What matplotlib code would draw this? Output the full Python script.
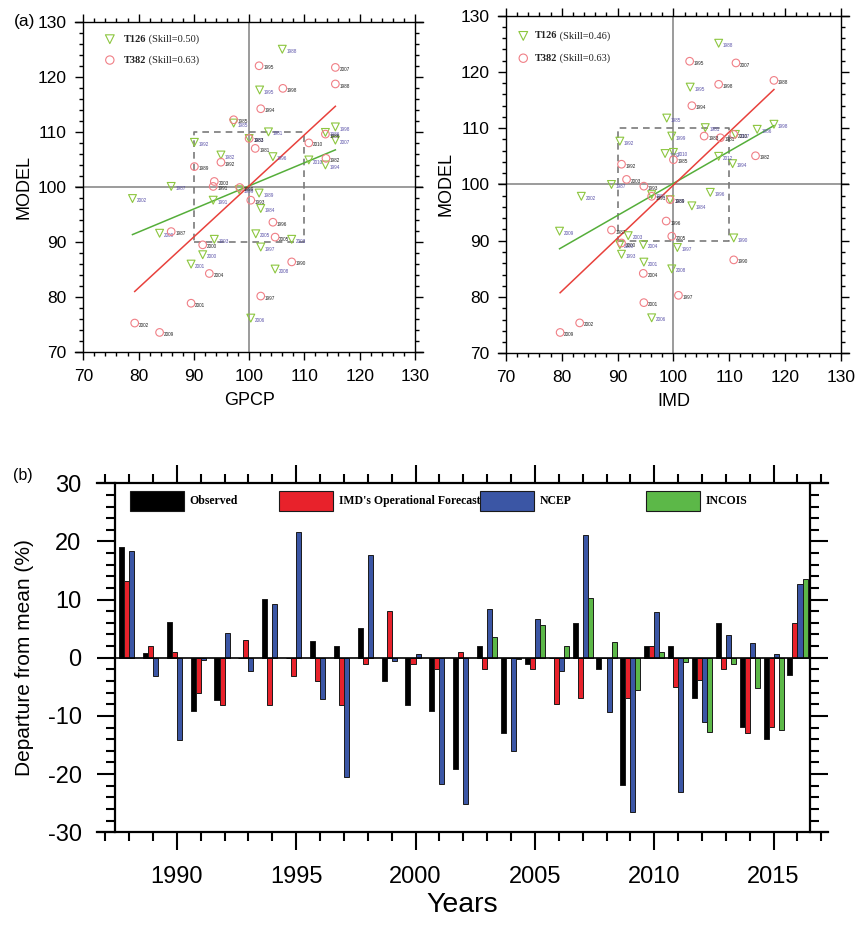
import matplotlib.pyplot as plt
from matplotlib.patches import Rectangle
from matplotlib.ticker import MultipleLocator
import numpy as np

plt.rcParams['font.family'] = ['Liberation Sans', 'DejaVu Sans']
plt.rcParams['axes.unicode_minus'] = False

# ---------------- (a) scatter data, MODEL vs GPCP ----------------
gpcp_t126_x = [106.0, 101.9, 97.2, 103.5, 100.0, 115.6, 113.8, 115.6, 90.1, 94.9,
               104.3, 110.8, 113.8, 85.9, 78.9, 93.5, 98.2, 101.8, 102.1, 83.8,
               93.7, 101.2, 107.7, 102.1, 91.6, 89.5, 104.7, 100.3]
gpcp_t126_y = [125.0, 117.6, 111.6, 110.0, 108.8, 110.9, 109.9, 108.5, 108.1, 105.8,
               105.5, 104.9, 104.0, 100.1, 97.9, 97.6, 99.5, 98.9, 96.1, 91.6,
               90.5, 91.5, 90.5, 89.1, 87.7, 86.0, 85.1, 76.2]
gpcp_t126_yr = ['1988', '1995', '1985', '1981', '1983', '1998', '1986', '2007', '1992', '1982',
                '1996', '2010', '1994', '1987', '2002', '1991', '1999', '1989', '1984', '2009',
                '1993', '2005', '2003', '1997', '2000', '2001', '2008', '2006']

gpcp_t382_x = [101.8, 115.6, 115.6, 106.1, 102.1, 97.2, 100.0, 101.1, 110.8, 113.8,
               113.9, 94.9, 90.1, 93.7, 93.5, 98.3, 100.3, 104.3, 85.9, 104.7,
               91.6, 107.7, 92.8, 102.1, 89.5, 79.3, 83.8]
gpcp_t382_y = [122.0, 121.7, 118.7, 117.9, 114.2, 112.2, 108.8, 107.0, 108.0, 109.6,
               105.2, 104.5, 103.7, 101.0, 100.1, 99.9, 97.6, 93.6, 91.9, 90.9,
               89.5, 86.4, 84.3, 80.2, 78.9, 75.3, 73.6]
gpcp_t382_yr = ['1995', '2007', '1988', '1998', '1994', '1985', '1983', '1981', '2010', '1986',
                '1982', '1992', '1989', '2003', '1991', '1999', '1993', '1996', '1987', '2005',
                '2000', '1990', '2004', '1997', '2001', '2002', '2009']

# ---------------- (a) scatter data, MODEL vs IMD ----------------
imd_t126_x = [108.1, 103.0, 98.8, 118.0, 115.0, 105.7, 111.1, 90.4, 99.7, 98.5,
              100.0, 108.1, 110.6, 88.9, 83.5, 96.1, 106.6, 103.3, 99.4, 79.6,
              91.9, 94.6, 90.4, 100.7, 110.8, 90.7, 94.7, 99.7, 96.1]
imd_t126_y = [125.1, 117.3, 111.8, 110.7, 109.8, 110.1, 108.9, 107.7, 108.6, 105.5,
              105.7, 105.0, 103.7, 100.0, 97.9, 98.2, 98.6, 96.2, 97.3, 91.7,
              90.9, 89.3, 89.3, 88.8, 90.5, 87.6, 86.2, 85.0, 76.3]
imd_t126_yr = ['1988', '1995', '1985', '1998', '1986', '1981', '2007', '1992', '1999', '1982',
               '2010', '2012', '1994', '1987', '2002', '1991', '1996', '1984', '1989', '2009',
               '2003', '2004', '2000', '1997', '1990', '1993', '2001', '2008', '2006']

imd_t382_x = [102.9, 111.2, 118.0, 108.1, 103.3, 105.5, 108.4, 110.8, 114.7, 90.7,
              91.6, 94.7, 98.7, 99.7, 88.9, 110.8, 94.6, 100.9, 94.7, 83.2,
              79.7, 96.1, 100.0, 99.4, 90.7]
imd_t382_y = [121.9, 121.6, 118.5, 117.8, 114.0, 108.6, 108.3, 108.9, 105.1, 103.6,
              100.9, 99.7, 93.5, 90.8, 91.9, 86.6, 84.2, 80.3, 79.0, 75.4,
              73.7, 97.9, 104.4, 97.3, 89.6]
imd_t382_yr = ['1995', '2007', '1988', '1998', '1994', '1983', '1981', '2010', '1982', '1992',
               '2003', '1993', '1996', '2005', '1987', '1990', '2004', '1997', '2001', '2002',
               '2009', '1991', '1985', '1989', '2000']

# regression lines: (slope, model value at 100)
gpcp_t126_fit = (0.419, 100.2)
gpcp_t382_fit = (0.926, 100.2)
imd_t126_fit = (0.570, 100.2)
imd_t382_fit = (0.943, 99.9)

gpcp_skill = ('0.50', '0.63')
imd_skill = ('0.46', '0.63')

# ---------------- (b) departure from mean (%) ----------------
years = np.arange(1988, 2017)
observed = [19.1, 0.9, 6.1, -9.2, -7.2, 0.0, 10.1, 0.0, 2.9, 2.0,
            5.1, -4.0, -8.1, -9.1, -19.2, 2.1, -12.9, -1.0, 0.0, 6.0,
            -2.0, -21.9, 2.1, 2.1, -7.0, 6.0, -11.9, -13.9, -3.0]
imd_forecast = [13.2, 2.0, 1.0, -6.0, -8.1, 3.1, -8.1, -3.1, -4.0, -8.1,
                -1.1, 8.1, -1.1, -2.0, 1.0, -2.0, 0.0, -2.0, -7.9, -7.0,
                0.0, -7.0, 2.1, -5.0, -3.9, -2.0, -13.0, -11.9, 6.0]
ncep = [18.4, -3.1, -14.1, -0.4, 4.2, -2.3, 9.3, 21.7, -7.1, -20.5,
        17.6, -0.5, 0.6, -21.7, -25.1, 8.4, -16.0, 6.7, -2.3, 21.1,
        -9.4, -26.6, 7.8, -23.0, -11.0, 3.9, 2.5, 0.7, 12.6]
incois = [np.nan] * 15 + [3.5, -0.3, 5.6, 2.1, 10.2,
                          2.7, -5.5, 1.0, -0.7, -12.7, -1.1, -5.2, -12.5, 13.6]

series_names = ['Observed', "IMD's Operational Forecast", 'NCEP', 'INCOIS']
series_colors = ['#000000', '#E8222B', '#3B56A5', '#5CB848']

fig = plt.figure(figsize=(8.64, 9.27), dpi=100)

tri_col = '#8CC63F'
circ_col = '#F07F86'


def scatter_panel(rect, pos_leg, xlabel, t126, t382, fits, skill):
    ax = fig.add_axes(rect)
    ax.set_xlim(68.5, 131.5)
    ax.set_ylim(70, 130)
    ax.spines['left'].set_position(('data', 70))
    ax.spines['right'].set_position(('data', 130))
    for s in ax.spines.values():
        s.set_linewidth(1.0)
    ax.set_xticks(range(70, 131, 10))
    ax.set_yticks(range(70, 131, 10))
    ax.xaxis.set_minor_locator(MultipleLocator(2))
    ax.yaxis.set_minor_locator(MultipleLocator(2))
    ax.tick_params(which='both', direction='out', top=True, right=True,
                   labelsize=12.5, width=1.0)
    ax.tick_params(which='major', length=6, pad=6)
    ax.tick_params(which='minor', length=3)
    ax.set_xlim(68.5, 131.5)

    # reference cross and 90-110 box
    ax.axvline(100, color='#8a8a8a', lw=1.2, zorder=1)
    ax.axhline(100, color='#8a8a8a', lw=1.2, zorder=1)
    ax.plot([90, 110, 110, 90, 90], [90, 90, 110, 110, 90], color='#7a7a7a',
            lw=1.2, ls=(0, (4, 3)), zorder=1)

    # fitted lines
    for (xs, ys, _), (slope, c), col in zip((t126, t382), fits, ('#55AE3A', '#E8413C')):
        xx = np.array([min(xs), max(xs)])
        ax.plot(xx, c + slope * (xx - 100), color=col, lw=1.1, zorder=2)

    xs, ys, yr = t126
    ax.scatter(xs, ys, marker='v', s=32, facecolors='none', edgecolors=tri_col,
               linewidths=0.8, zorder=3)
    for x, y, t in zip(xs, ys, yr):
        ax.annotate(t, (x, y), xytext=(3, -1.5), textcoords='offset points',
                    fontsize=3.3, color='#5a52a8', va='center', ha='left')
    xs, ys, yr = t382
    ax.scatter(xs, ys, marker='o', s=30, facecolors='none', edgecolors=circ_col,
               linewidths=0.8, zorder=3)
    for x, y, t in zip(xs, ys, yr):
        ax.annotate(t, (x, y), xytext=(3, -1.5), textcoords='offset points',
                    fontsize=3.3, color='#222222', va='center', ha='left')

    # legend
    mx, my1, my2, tx = pos_leg
    ax.scatter([mx], [my1], marker='v', s=40, facecolors='none', edgecolors=tri_col,
               linewidths=0.8, transform=ax.transAxes, clip_on=False)
    ax.scatter([mx], [my2], marker='o', s=36, facecolors='none', edgecolors=circ_col,
               linewidths=0.8, transform=ax.transAxes, clip_on=False)
    for name, yy, sk in (('T126', my1, skill[0]), ('T382', my2, skill[1])):
        t1 = ax.text(tx, yy, name, transform=ax.transAxes, fontsize=7.5,
                     fontweight='bold', family='Liberation Serif', va='center',
                     color='#222222')
        ax.annotate(' (Skill=%s)' % sk, xy=(1, 0.5), xycoords=t1, va='center',
                    fontsize=7.5, family='Liberation Serif', color='#222222')

    ax.set_xlabel(xlabel, fontsize=13, labelpad=6)
    ax.set_ylabel('MODEL', fontsize=13, labelpad=4)
    return ax


ax1 = scatter_panel([0.0868, 0.6200, 0.4031, 0.3566], (0.100, 0.947, 0.884, 0.141), 'GPCP',
                    (gpcp_t126_x, gpcp_t126_y, gpcp_t126_yr),
                    (gpcp_t382_x, gpcp_t382_y, gpcp_t382_yr),
                    (gpcp_t126_fit, gpcp_t382_fit), gpcp_skill)
ax2 = scatter_panel([0.5759, 0.6189, 0.4071, 0.3642], (0.073, 0.940, 0.874, 0.106), 'IMD',
                    (imd_t126_x, imd_t126_y, imd_t126_yr),
                    (imd_t382_x, imd_t382_y, imd_t382_yr),
                    (imd_t126_fit, imd_t382_fit), imd_skill)
fig.text(0.016, 0.9766, '(a)', fontsize=12.5, va='center')

# ---------------- (b) bars ----------------
ax3 = fig.add_axes([0.1123, 0.1022, 0.8461, 0.3765])
w = 0.21
offsets = [-1.5 * w, -0.5 * w, 0.5 * w, 1.5 * w]
for vals, off, col in zip((observed, imd_forecast, ncep, incois), offsets, series_colors):
    ax3.bar(years + off, vals, width=w, color=col, edgecolor='#1a1a1a', linewidth=0.7,
            zorder=2)
ax3.axhline(0, color='black', lw=1.2, zorder=3)
ax3.set_xlim(1986.66, 2017.28)
ax3.set_ylim(-30, 30)
ax3.spines['left'].set_position(('data', 1987.41))
ax3.spines['right'].set_position(('data', 2016.52))
for s in ax3.spines.values():
    s.set_linewidth(1.6)
ax3.set_xticks(range(1990, 2016, 5))
ax3.xaxis.set_minor_locator(MultipleLocator(1))
ax3.set_yticks(range(-30, 31, 10))
ax3.yaxis.set_minor_locator(MultipleLocator(2))
ax3.tick_params(which='both', direction='out', top=True, right=True, width=1.5,
                labelsize=17)
ax3.tick_params(which='major', length=13, pad=11)
ax3.tick_params(which='minor', length=6.5)
ax3.set_xlim(1986.66, 2017.28)
ax3.set_ylabel('Departure from mean (%)', fontsize=15, labelpad=10)
ax3.set_xlabel('Years', fontsize=20.5, labelpad=3)
fig.text(0.015, 0.487, '(b)', fontsize=11.5, va='center')

# legend boxes along the top
box_x = [0.0451, 0.249, 0.524, 0.751]
for bx, name, col in zip(box_x, series_names, series_colors):
    ax3.add_patch(Rectangle((bx, 0.9215), 0.0739, 0.0573, transform=ax3.transAxes,
                            facecolor=col, edgecolor='#1a1a1a', lw=0.8, zorder=4))
    ax3.text(bx + 0.0739 + 0.008, 0.950, name, transform=ax3.transAxes, fontsize=8.5,
             fontweight='bold', family='Liberation Serif', va='center', zorder=4)

fig.savefig('out.png', dpi=100)
